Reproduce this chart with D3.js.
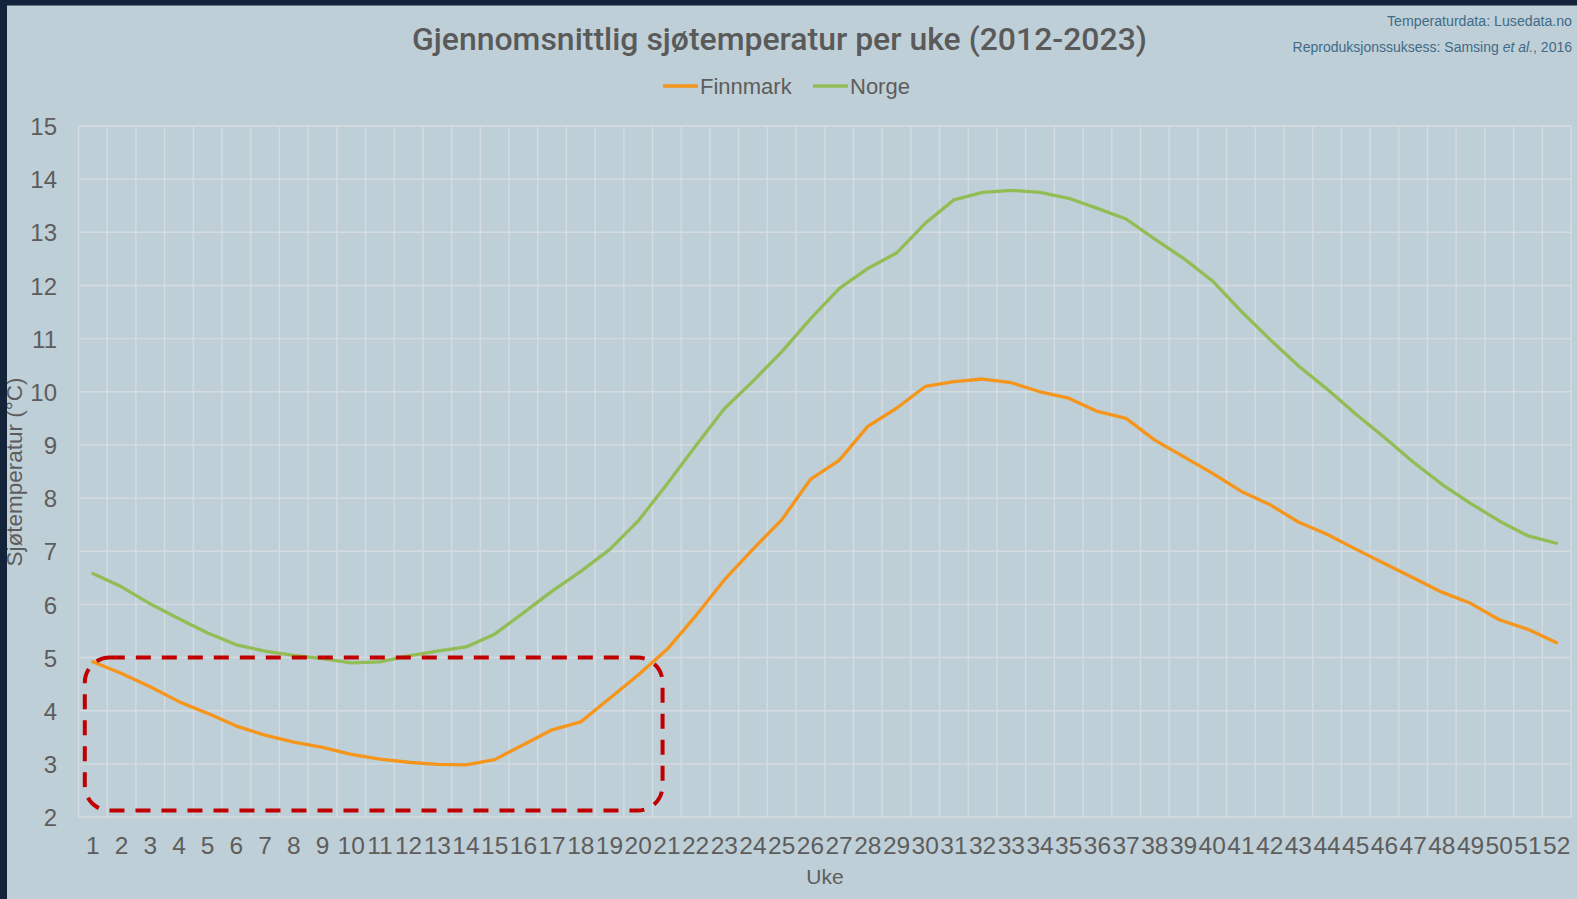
<!DOCTYPE html>
<html>
<head>
<meta charset="utf-8">
<script src="https://cdn.jsdelivr.net/npm/d3@7"></script>
<style>
  html, body { margin: 0; padding: 0; background: #bfcfd7; }
  svg { display: block; }
</style>
</head>
<body>
<script>
// ---- Data ----
const weeks = ["1","2","3","4","5","6","7","8","9","10","11","12","13","14","15","16","17","18","19","20",
  "21","22","23","24","25","26","27","28","29","30","31","32","33","34","35","36","37","38","39","40",
  "41","42","43","44","45","46","47","48","49","50","51","52"];
const finnmark = [4.92,4.70,4.45,4.17,3.95,3.71,3.54,3.41,3.31,3.18,
  3.09,3.03,2.99,2.98,3.08,3.36,3.64,3.79,4.23,4.67,
  5.15,5.78,6.46,7.04,7.59,8.35,8.71,9.35,9.69,10.10,
  10.19,10.24,10.17,10.00,9.88,9.63,9.50,9.09,8.78,8.47,
  8.13,7.88,7.55,7.32,7.04,6.77,6.50,6.23,6.02,5.71,
  5.53,5.28];
const norge = [6.58,6.33,6.01,5.73,5.46,5.24,5.12,5.04,4.98,4.90,
  4.92,5.03,5.12,5.20,5.44,5.84,6.25,6.62,7.03,7.57,
  8.26,8.98,9.68,10.20,10.75,11.37,11.94,12.32,12.61,13.17,
  13.61,13.75,13.79,13.75,13.64,13.45,13.25,12.87,12.51,12.09,
  11.52,10.99,10.49,10.05,9.58,9.14,8.68,8.26,7.90,7.57,
  7.29,7.15];
const seriesNames = ["Finnmark", "Norge"];
const yTicks = [2,3,4,5,6,7,8,9,10,11,12,13,14,15];
// highlighted region: weeks 1..21, temperature 2.12..5
const boxWeeks = ["1", "21"];
const boxTemps = [2.12, 5.0];

const W = 1577, H = 899;
const colors = { Finnmark: "#f5951b", Norge: "#92bd55" };
const textGrey = "#5d5d5d";

const svg = d3.select("body").append("svg").attr("width", W).attr("height", H);
svg.append("rect").attr("width", W).attr("height", H).attr("fill", "#bfcfd7");

const x = d3.scaleBand().domain(weeks).range([78.5, 1571]).padding(0);
const y = d3.scaleLinear().domain([2, 15]).range([817, 126]);
const bw = x.bandwidth();
const cx = w => x(w) + bw / 2;

// grid
const grid = svg.append("g").attr("stroke", "#d5dce1").attr("stroke-width", 1.4);
grid.selectAll("line.h").data(yTicks).join("line").attr("class", "h")
  .attr("x1", 78.5).attr("x2", 1571).attr("y1", d => y(d)).attr("y2", d => y(d));
grid.selectAll("line.v").data(weeks.concat(["end"])).join("line").attr("class", "v")
  .attr("x1", (d, i) => i < weeks.length ? x(d) : x(weeks[weeks.length-1]) + bw)
  .attr("x2", (d, i) => i < weeks.length ? x(d) : x(weeks[weeks.length-1]) + bw)
  .attr("y1", y(15)).attr("y2", y(2));

// y axis labels
const yAxis = d3.axisLeft(y).tickValues(yTicks).tickSize(0).tickPadding(0);
const gy = svg.append("g").attr("transform", "translate(57,0)").call(yAxis);
gy.select(".domain").remove();
gy.selectAll("text").attr("font-family", "Liberation Sans, Arial, sans-serif")
  .attr("font-size", 24).attr("fill", textGrey).attr("dy", "0.36em").attr("x", 0);

// x axis labels
const xAxis = d3.axisBottom(x).tickSize(0).tickPadding(0);
const gx = svg.append("g").attr("transform", "translate(0,837)").call(xAxis);
gx.select(".domain").remove();
gx.selectAll("text").attr("font-family", "Liberation Sans, Arial, sans-serif")
  .attr("font-size", 24.5).attr("fill", textGrey).attr("dy", "0.71em").attr("y", 0);

// lines
const line = d3.line().x((d, i) => cx(weeks[i])).y(d => y(d));
[["Finnmark", finnmark], ["Norge", norge]].forEach(([name, vals]) => {
  svg.append("path").datum(vals).attr("d", line).attr("fill", "none")
    .attr("stroke", colors[name]).attr("stroke-width", 3.3)
    .attr("stroke-linejoin", "round").attr("stroke-linecap", "round");
});

// highlight box
const bx0 = cx(boxWeeks[0]) - 0.28 * bw, bx1 = cx(boxWeeks[1]) - 0.15 * bw;
svg.append("rect")
  .attr("x", bx0).attr("y", y(boxTemps[1]))
  .attr("width", bx1 - bx0).attr("height", y(boxTemps[0]) - y(boxTemps[1]))
  .attr("rx", 25).attr("ry", 25)
  .attr("fill", "none").attr("stroke", "#c00000").attr("stroke-width", 4)
  .attr("stroke-dasharray", "15 11");

// title
svg.append("text").attr("x", 779.5).attr("y", 50).attr("text-anchor", "middle")
  .attr("font-family", "Roboto, Liberation Sans, sans-serif").attr("font-weight", 500)
  .attr("font-size", 32).attr("fill", "#5a5a5a")
  .attr("textLength", 735).attr("lengthAdjust", "spacingAndGlyphs")
  .text("Gjennomsnittlig sjøtemperatur per uke (2012-2023)");

// sources top right
const src = svg.append("g").attr("font-family", "Liberation Sans, Arial, sans-serif")
  .attr("font-size", 14).attr("fill", "#3f6b88").attr("text-anchor", "end");
src.append("text").attr("x", 1572).attr("y", 26)
  .attr("textLength", 185).attr("lengthAdjust", "spacingAndGlyphs")
  .text("Temperaturdata: Lusedata.no");
const t2 = src.append("text").attr("x", 1572).attr("y", 52);
t2.append("tspan").text("Reproduksjonssuksess: Samsing ");
t2.append("tspan").attr("font-style", "italic").text("et al.");
t2.append("tspan").text(", 2016");

// legend
const legend = svg.append("g").attr("font-family", "Liberation Sans, Arial, sans-serif")
  .attr("font-size", 22).attr("fill", textGrey);
const legendPos = [663, 813];
seriesNames.forEach((name, i) => {
  const lx = legendPos[i];
  legend.append("line").attr("x1", lx).attr("x2", lx + 35).attr("y1", 86).attr("y2", 86)
    .attr("stroke", colors[name]).attr("stroke-width", 3.3);
  legend.append("text").attr("x", lx + 37).attr("y", 93.5).text(name);
});

// axis titles
svg.append("text").attr("x", 825).attr("y", 884).attr("text-anchor", "middle")
  .attr("font-family", "Liberation Sans, Arial, sans-serif").attr("font-size", 21)
  .attr("fill", textGrey).text("Uke");
svg.append("text").attr("transform", "translate(22,472) rotate(-90)").attr("text-anchor", "middle")
  .attr("font-family", "Liberation Sans, Arial, sans-serif").attr("font-size", 22.5)
  .attr("fill", textGrey).text("Sjøtemperatur (°C)");

// dark frame
svg.append("rect").attr("x", 0).attr("y", 0).attr("width", 7).attr("height", H).attr("fill", "#12233a");
svg.append("rect").attr("x", 0).attr("y", 0).attr("width", W).attr("height", 5.5).attr("fill", "#12233a");
</script>
</body>
</html>
